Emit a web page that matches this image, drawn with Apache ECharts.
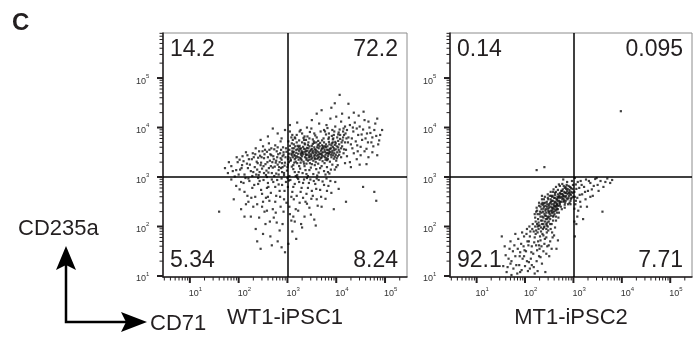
<!DOCTYPE html>
<html>
<head>
<meta charset="utf-8">
<script src="https://cdn.jsdelivr.net/npm/echarts@6/dist/echarts.min.js"></script>
<style>
html, body { margin: 0; background: #fff; }
#chart { width: 700px; height: 345px; }
</style>
</head>
<body>
<div id="chart"></div>
<script>
// events in log10 units: [log10(CD71), log10(CD235a)]
const wtPoints = [
[3.02,3.41],[3.10,3.52],[3.15,3.36],[3.22,3.47],[3.28,3.58],[3.33,3.31],[3.38,3.44],[3.45,3.62],[3.51,3.39],[3.57,3.51],[3.63,3.27],[3.68,3.46],[3.74,3.59],[3.80,3.38],[3.86,3.66],[3.92,3.49],[3.98,3.71],[4.05,3.55],[4.12,3.62],[2.95,3.29],
[3.05,3.63],[3.12,3.24],[3.19,3.70],[3.26,3.39],[3.31,3.50],[3.36,3.66],[3.42,3.33],[3.48,3.55],[3.54,3.72],[3.60,3.43],[3.66,3.35],[3.71,3.64],[3.77,3.51],[3.83,3.42],[3.89,3.58],[3.95,3.37],[4.01,3.62],[4.08,3.77],[4.15,3.48],[2.98,3.51],
[3.07,3.34],[3.13,3.58],[3.20,3.28],[3.25,3.63],[3.30,3.42],[3.35,3.22],[3.41,3.53],[3.47,3.41],[3.52,3.67],[3.58,3.30],[3.64,3.58],[3.70,3.40],[3.75,3.70],[3.81,3.55],[3.87,3.31],[3.93,3.61],[3.99,3.45],[4.06,3.66],[4.18,3.70],[3.00,3.20],
[3.08,3.47],[3.16,3.62],[3.23,3.35],[3.29,3.53],[3.34,3.75],[3.39,3.38],[3.44,3.49],[3.50,3.26],[3.55,3.60],[3.61,3.52],[3.67,3.69],[3.72,3.32],[3.78,3.45],[3.84,3.77],[3.90,3.40],[3.96,3.54],[4.03,3.42],[4.10,3.58],[2.92,3.45],[3.04,3.55],
[3.11,3.40],[3.18,3.49],[3.24,3.22],[3.32,3.61],[3.37,3.47],[3.43,3.70],[3.49,3.36],[3.56,3.45],[3.62,3.64],[3.69,3.53],[3.76,3.28],[3.82,3.62],[3.88,3.50],[3.94,3.78],[4.00,3.33],[4.07,3.51],[4.14,3.80],[3.03,3.30],[3.14,3.45],[3.21,3.56],
[3.27,3.29],[3.40,3.59],[3.46,3.28],[3.53,3.48],[3.59,3.70],[3.65,3.41],[3.73,3.50],[3.79,3.66],[3.85,3.48],[3.97,3.65],[4.04,3.73],[3.09,3.68],[3.17,3.31],[3.28,3.45],[3.39,3.27],[3.50,3.57],[3.61,3.37],[3.70,3.56],[3.81,3.34],[3.91,3.68],
[4.02,3.50],[3.06,3.38],[3.11,3.49],[3.19,3.42],[3.24,3.53],[3.29,3.34],[3.34,3.57],[3.40,3.45],[3.45,3.35],[3.51,3.50],[3.56,3.38],[3.61,3.60],[3.66,3.47],[3.71,3.44],[3.76,3.55],[3.82,3.49],[3.87,3.57],[3.93,3.44],[3.99,3.56],[3.27,3.48],
[3.36,3.40],[3.46,3.52],[3.55,3.42],[3.64,3.50],[3.74,3.42],[3.84,3.55],[3.18,3.55],[3.32,3.46],[3.48,3.46],[3.58,3.55],[3.69,3.38],[3.79,3.60],[3.89,3.45],[3.09,3.44],[3.22,3.40],[3.43,3.58],[3.53,3.33],[3.63,3.45],[3.73,3.62],[3.83,3.36],
[3.96,3.48],[4.06,3.45],[4.11,3.70],[4.16,3.56],[3.01,3.36],[2.97,3.58],[3.14,3.29],[3.38,3.52],[3.59,3.48],[3.77,3.40],[3.92,3.53],
[3.02,3.72],[3.08,3.80],[3.13,3.66],[3.19,3.85],[3.24,3.74],[3.30,3.88],[3.35,3.68],[3.41,3.82],[3.46,3.91],[3.52,3.76],[3.57,3.84],[3.63,3.73],[3.68,3.92],[3.74,3.78],[3.79,3.86],[3.85,3.71],[3.91,3.83],[3.96,3.92],[4.02,3.80],[4.07,3.96],
[4.13,3.74],[4.19,3.88],[3.05,3.92],[3.16,3.78],[3.27,3.95],[3.38,3.75],[3.49,3.98],[3.60,3.80],[3.71,3.74],[3.82,3.99],[3.93,3.76],[4.04,3.86],[4.15,3.98],[3.11,3.75],[3.33,3.79],[3.55,3.69],[3.77,3.92],[3.99,3.68],[4.21,3.78],
[2.82,3.05],[2.87,3.18],[2.93,3.08],[2.99,3.13],[3.04,3.02],[3.09,3.21],[3.15,3.10],[3.20,3.04],[3.26,3.17],[3.31,3.08],[3.37,3.14],[3.42,3.02],[3.48,3.19],[3.53,3.06],[3.59,3.16],[3.64,3.09],[3.70,3.22],[3.75,3.12],[3.81,3.20],[3.86,3.07],
[3.92,3.25],[3.97,3.15],[4.03,3.24],[2.90,3.20],[3.01,3.25],[3.12,3.16],[3.23,3.10],[3.34,3.27],[3.45,3.14],[3.56,3.24],[3.67,3.18],[3.78,3.05],[3.89,3.15],[4.00,3.20],[3.17,3.02],[3.39,3.06],[3.61,3.03],[3.83,3.10],
[2.96,3.40],[3.03,3.47],[3.10,3.58],[3.17,3.39],[3.23,3.60],[3.30,3.49],[3.37,3.56],[3.44,3.44],[3.50,3.63],[3.57,3.36],[3.64,3.66],[3.70,3.48],[3.77,3.62],[3.84,3.46],[3.90,3.64],[3.97,3.41],[4.04,3.60],[4.10,3.40],[3.06,3.33],[3.13,3.51],
[3.21,3.63],[3.28,3.37],[3.35,3.51],[3.42,3.65],[3.49,3.43],[3.56,3.56],[3.63,3.39],[3.71,3.58],[3.78,3.35],[3.86,3.52],[3.93,3.70],[4.01,3.38],[3.15,3.43],[3.26,3.57],[3.39,3.35],[3.52,3.53],[3.66,3.62],[3.80,3.48],[3.95,3.58],[3.44,3.40],
[1.78,3.08],[1.85,3.22],[1.92,3.01],[1.98,3.30],[2.03,3.15],[2.08,3.42],[2.12,3.05],[2.17,3.27],[2.21,3.36],[2.25,3.12],[2.29,3.48],[2.33,3.20],[2.37,3.31],[2.41,3.04],[2.44,3.43],[2.48,3.17],[2.52,3.38],[2.55,3.26],[2.58,3.51],[2.61,3.09],
[2.64,3.33],[2.67,3.44],[2.70,3.19],[2.73,3.56],[2.76,3.29],[2.79,3.40],[2.82,3.14],[2.85,3.48],[2.88,3.35],[2.91,3.60],[2.94,3.23],[2.15,3.50],[2.35,3.58],[2.50,3.62],[2.62,3.68],[2.75,3.64],[2.86,3.72],[2.02,3.35],[2.28,3.02],[2.46,3.29],
[2.57,3.13],[2.69,3.30],[2.80,3.25],[2.90,3.42],[2.40,3.39],[2.53,3.46],[2.66,3.22],[2.78,3.52],[2.89,3.10],[2.60,3.40],[2.72,3.36],[2.84,3.30],[2.45,3.24],[2.31,3.40],[2.19,3.18],[2.07,3.24],[1.95,3.14],[2.56,3.04],[2.77,3.07],[2.87,3.55],
[2.63,3.55],[2.49,3.52],[2.38,3.15],
[1.72,3.18],[1.80,3.30],[1.88,3.12],[1.96,3.40],[2.00,3.05],[2.06,3.18],[2.10,3.32],[2.14,2.98],[2.18,3.44],[2.23,3.25],[2.27,3.36],[2.30,3.10],[2.34,3.46],[2.39,3.28],[2.43,3.10],[2.47,3.40],[2.51,3.22],[2.54,3.55],[2.59,3.30],[2.62,3.18],
[2.65,3.46],[2.68,3.08],[2.71,3.42],[2.74,3.21],[2.77,3.33],[2.81,3.46],[2.83,3.20],[2.86,3.38],[2.89,3.28],[2.92,3.50],[2.36,3.05],[2.52,3.08],[2.67,3.58],[2.80,3.60],[2.42,3.52],[2.58,3.00],[2.73,3.02],[2.93,3.04],
[4.20,3.55],[4.25,3.80],[4.30,3.66],[4.35,3.92],[4.40,3.72],[4.45,3.85],[4.50,3.61],[4.55,3.96],[4.60,3.78],[4.65,3.70],[4.70,3.89],[4.76,3.62],[4.82,3.83],[4.88,3.74],[4.94,3.95],[4.22,3.95],[4.28,4.05],[4.33,3.58],[4.38,4.10],[4.43,3.64],
[4.48,4.02],[4.53,3.75],[4.58,4.15],[4.63,3.88],[4.68,4.00],[4.74,3.80],[4.80,4.08],[4.86,3.66],[3.85,3.88],[3.92,3.95],[3.98,4.02],[4.05,3.90],[4.10,4.12],[4.16,3.85],[3.80,4.05],[3.88,4.18],[4.00,4.22],[4.12,4.28],[4.26,4.20],[4.36,4.30],
[4.46,4.24],[4.56,4.32],[4.18,4.02],[4.32,3.78],[4.42,3.98],[4.52,3.86],[4.62,3.57],[4.72,3.70],[4.24,3.70],[4.08,3.85],[3.95,3.85],[4.14,3.92],[4.34,4.00],[4.44,3.52],[4.66,4.12],[4.78,3.95],[4.90,3.85],[4.84,4.18],
[4.22,3.42],[4.28,3.30],[4.36,3.48],[4.42,3.36],[4.50,3.44],[4.58,3.52],[4.66,3.40],[4.74,3.50],[4.84,3.44],[4.30,3.20],[4.48,3.25],[4.18,3.28],[4.62,3.26],
[2.45,3.75],[2.60,3.82],[2.80,3.88],[2.95,3.95],[3.10,3.85],[3.25,3.92],[3.40,4.00],[3.55,3.88],[3.65,4.08],[3.75,3.95],[3.20,4.10],[3.50,4.15],[3.35,3.82],[3.05,4.05],[2.70,3.98],[3.60,4.28],[3.90,4.40],[4.25,4.48],[4.07,4.66],[3.97,4.49],
[3.70,4.35],[3.45,3.78],[3.15,3.80],[2.88,3.78],[3.30,3.70],[3.85,3.80],
[1.85,2.95],[1.95,2.82],[2.05,2.90],[2.12,2.70],[2.20,2.97],[2.26,2.58],[2.32,2.84],[2.38,2.45],[2.43,2.92],[2.48,2.66],[2.53,2.30],[2.58,2.78],[2.63,2.52],[2.68,2.95],[2.72,2.18],[2.77,2.62],[2.82,2.85],[2.86,2.40],[2.90,2.05],[2.94,2.72],
[3.03,2.93],[3.08,2.60],[3.12,2.80],[3.17,2.35],[3.22,2.96],[3.27,2.70],[3.32,2.88],[3.37,2.50],[3.42,2.78],[3.47,2.95],[3.52,2.62],[3.57,2.86],[3.62,2.42],[3.67,2.74],[3.72,2.91],[3.78,2.56],[3.84,2.82],[3.90,2.68],[3.98,2.90],[4.05,2.76],
[3.05,2.25],[3.15,2.10],[3.25,2.48],[3.35,2.20],[3.45,2.38],[3.55,2.14],[3.10,1.90],[3.30,1.98],[2.55,2.05],[2.65,1.80],[2.80,1.70],[2.45,1.55],[2.95,1.48],[3.02,1.65],[2.25,2.20],[2.15,2.45],[2.35,1.95],[2.70,2.35],[2.60,2.88],[2.88,2.97],
[3.00,2.98],[3.20,2.99],[3.40,2.98],[3.60,2.97],[3.80,2.97],[2.40,2.98],[2.75,2.80],[3.13,2.55],[3.50,2.72],[3.70,2.40],[2.50,2.50],[2.85,2.60],[1.90,2.55],[2.05,2.35],[4.78,2.70],[4.82,2.52],[4.55,2.80],[1.60,2.30],[3.95,2.35],[4.20,2.50],
[2.02,2.75],[2.10,2.88],[2.18,2.62],[2.22,2.92],[2.28,2.78],[2.34,2.60],[2.40,2.86],[2.46,2.74],[2.51,2.94],[2.56,2.58],[2.61,2.80],[2.66,2.68],[2.71,2.90],[2.75,2.50],[2.79,2.94],[2.84,2.72],[2.89,2.84],[2.93,2.55],[2.97,2.90],[3.01,2.80],
[3.06,2.94],[3.10,2.70],[3.15,2.86],[3.19,2.62],[3.24,2.90],[3.29,2.78],[3.34,2.95],[3.39,2.66],[3.44,2.88],[3.49,2.56],[3.54,2.92],[3.59,2.76],[3.64,2.94],[3.69,2.60],[3.75,2.84],[3.81,2.72],[3.88,2.92],[2.30,2.40],[2.42,2.18],[2.58,2.32],
[2.64,2.10],[2.76,2.28],[2.84,1.92],[2.92,2.30],[3.04,2.40],[3.12,2.20],[3.22,2.32],[3.28,2.05],[3.40,2.46],[3.48,2.24],[2.68,1.62],[2.50,1.85],[2.88,1.58],[3.18,1.75],[2.38,1.70],[2.60,2.60],[2.98,2.48],[3.32,2.58],[3.60,2.55],[2.20,2.50],
[2.12,2.20],[2.78,2.08],[3.58,2.02],[2.48,2.40],[3.08,2.12]
];

const mtPoints = [
[2.70,2.60],[2.75,2.72],[2.80,2.55],[2.84,2.80],[2.88,2.66],[2.92,2.74],[2.96,2.58],[2.99,2.84],[2.72,2.82],[2.78,2.65],[2.83,2.48],[2.87,2.90],[2.91,2.62],[2.95,2.78],[2.98,2.68],[2.74,2.50],[2.81,2.70],[2.86,2.57],[2.90,2.82],[2.94,2.52],
[2.97,2.92],[2.68,2.74],[2.77,2.86],[2.85,2.76],[2.93,2.66],[2.65,2.55],[2.62,2.68],[2.66,2.45],[2.89,2.45],[2.79,2.95],
[2.22,2.10],[2.26,2.25],[2.30,2.02],[2.34,2.35],[2.38,2.18],[2.42,2.42],[2.46,2.08],[2.50,2.30],[2.54,2.50],[2.58,2.20],[2.62,2.40],[2.66,2.28],[2.24,2.38],[2.28,1.95],[2.32,2.20],[2.36,2.48],[2.40,2.00],[2.44,2.28],[2.48,2.55],[2.52,2.15],
[2.56,2.38],[2.60,2.58],[2.64,2.12],[2.68,2.35],[2.20,2.25],[2.25,2.05],[2.29,2.42],[2.33,2.12],[2.37,2.30],[2.41,2.22],[2.45,2.50],[2.49,2.10],[2.53,2.40],[2.57,2.62],[2.61,2.25],[2.65,2.48],[2.69,2.18],[2.27,2.15],[2.31,2.30],[2.35,2.05],
[2.39,2.40],[2.43,2.15],[2.47,2.36],[2.51,2.62],[2.55,2.28],[2.59,2.45],[2.63,2.32],[2.67,2.60],[2.23,1.92],[2.39,2.55],[2.55,2.05],[2.71,2.42],[2.44,1.95],[2.58,2.70],[2.35,2.62],[2.50,2.45],[2.42,2.32],[2.54,2.22],[2.46,2.20],[2.62,2.50],
[2.40,2.26],[2.45,2.40],[2.50,2.20],[2.55,2.45],[2.60,2.30],[2.65,2.40],[2.70,2.52],[2.75,2.60],[2.80,2.62],[2.85,2.68],[2.48,2.32],[2.52,2.48],[2.57,2.35],[2.62,2.58],[2.67,2.52],[2.72,2.68],[2.77,2.55],[2.82,2.78],[2.87,2.72],[2.92,2.70],
[2.36,2.20],[2.41,2.10],[2.46,2.45],[2.53,2.55],[2.58,2.52],[2.63,2.42],[2.68,2.65],[2.73,2.58],[2.78,2.75],[2.83,2.60],[2.34,2.28],[2.38,2.36],[2.44,2.05],[2.49,2.28],[2.56,2.60],[2.61,2.35],[2.66,2.55],[2.71,2.48],[2.76,2.66],[2.81,2.52],
[2.21,2.18],[2.25,2.32],[2.28,2.08],[2.32,2.40],[2.36,2.12],[2.39,2.47],[2.43,2.22],[2.47,2.58],[2.51,2.25],[2.55,2.52],[2.58,2.38],[2.62,2.64],[2.65,2.34],[2.69,2.58],[2.72,2.45],[2.76,2.72],[2.79,2.50],[2.83,2.68],[2.86,2.84],[2.90,2.58],
[2.93,2.80],[2.96,2.70],[2.99,2.60],[2.26,2.00],[2.30,2.25],[2.34,2.45],[2.38,2.05],[2.42,2.48],[2.46,2.15],[2.50,2.38],[2.54,2.62],[2.57,2.28],[2.61,2.48],[2.64,2.70],[2.68,2.42],[2.71,2.62],[2.74,2.40],[2.78,2.58],[2.82,2.44],[2.85,2.62],
[2.88,2.76],[2.92,2.48],[2.95,2.64],[2.98,2.76],[2.23,2.30],[2.29,2.48],[2.35,2.55],[2.41,2.60],[2.47,2.65],[2.53,2.70],[2.59,2.75],[2.64,2.80],[2.70,2.85],[2.33,1.90],[2.39,1.98],[2.45,2.02],[2.52,2.05],[2.58,2.12],[2.64,2.20],[2.70,2.28],
[2.76,2.35],[2.82,2.38],[2.88,2.55],[2.94,2.45],[2.37,2.44],[2.43,2.35],[2.49,2.42],[2.56,2.32],[2.60,2.42],[2.66,2.36],[2.73,2.50],[2.79,2.62],[2.84,2.52],[2.90,2.68],[2.95,2.56],[2.48,2.18],[2.53,2.32],[2.59,2.22],[2.66,2.44],[2.73,2.66],
[2.80,2.82],
[1.62,1.08],[1.70,1.25],[1.76,1.15],[1.80,1.40],[1.85,1.55],[1.88,1.22],[1.92,1.65],[1.95,1.35],[1.98,1.80],[2.02,1.50],[2.05,1.70],[2.08,1.28],[2.11,1.90],[2.14,1.60],[2.17,1.45],[2.20,1.78],[2.23,1.62],[2.26,1.88],[2.29,1.40],[2.32,1.72],
[1.84,1.05],[1.93,1.12],[2.00,1.20],[2.06,1.10],[2.12,1.35],[2.18,1.18],[2.24,1.30],[2.30,1.55],[2.36,1.85],[2.40,1.65],[2.44,1.78],[2.48,1.92],[2.52,1.70],[2.56,1.88],[1.90,1.48],[1.97,1.60],[2.03,1.85],[2.09,2.00],[2.15,1.95],[2.21,2.00],
[2.27,1.70],[2.33,1.98],[2.38,1.50],[2.46,1.60],[2.60,1.82],[2.10,1.15],[1.75,1.50],[1.66,1.35],[1.58,1.60],[1.52,1.80],[2.35,1.25],[2.50,1.40],[2.65,1.55],[2.42,1.08],[2.20,1.05],
[1.55,1.20],[1.60,1.42],[1.64,1.18],[1.68,1.55],[1.72,1.30],[1.78,1.62],[1.82,1.22],[1.86,1.75],[1.89,1.40],[1.94,1.88],[1.99,1.52],[2.04,1.95],[2.07,1.62],[2.10,1.80],[2.13,1.48],[2.16,2.05],[2.19,1.68],[2.22,1.85],[2.25,1.52],[2.28,2.02],
[2.31,1.80],[2.34,1.60],[2.37,1.95],[2.41,1.75],[2.45,1.88],[2.49,1.62],[2.53,1.95],[2.57,1.78],[1.72,1.02],[1.90,1.08],[2.04,1.30],[2.14,1.22],[2.26,1.10],[2.32,1.38],[2.44,1.45],[2.55,1.55],[2.62,1.98],[2.68,1.72],[1.98,1.40],[2.08,1.70],
[2.18,1.90],[2.29,1.62],[2.38,1.82],[2.47,2.00],[1.80,1.85],[1.70,1.70],
[3.02,2.70],[3.05,2.85],[3.08,2.58],[3.12,2.78],[3.15,2.92],[3.18,2.65],[3.22,2.80],[3.26,2.95],[3.30,2.72],[3.35,2.88],[3.40,2.62],[3.45,2.96],[3.50,2.84],[3.56,2.92],[3.62,2.80],[3.70,2.97],[3.76,2.88],[3.04,2.45],[3.10,2.32],[3.14,2.50],
[3.20,2.15],[3.28,2.40],[3.06,2.05],[3.03,1.80],[3.38,2.75],[3.60,2.30],[3.03,2.98],
[3.03,2.60],[3.06,2.76],[3.09,2.90],[3.13,2.64],[3.17,2.84],[3.24,2.70],[3.32,2.92],[3.42,2.82],[3.52,2.72],[3.66,2.90],[3.02,2.36],[3.08,2.20],[3.05,2.52],[3.15,2.40],[3.25,2.55],[3.35,2.60],[3.48,2.98],[3.80,2.94],[3.02,2.10],
[2.24,3.14],[2.40,3.20],[3.98,4.33]
];

const wtQuad = ['14.2', '72.2', '5.34', '8.24'];
const mtQuad = ['0.14', '0.095', '92.1', '7.71'];
const panelNames = ['WT1-iPSC1', 'MT1-iPSC2'];
const gate = 3;                 // quadrant gate at 10^3 on both channels
const majorDecades = [1, 2, 3, 4, 5];
const minorDecades = [0, 1, 2, 3, 4, 5];
const minorSteps = [2, 3, 4, 5, 6, 7, 8, 9];
const xRange = [0.45, 5.45];
const yRange = [0.98, 5.91];

const ink = '#231f20';
const font = '"Liberation Sans", Arial, sans-serif';

// tick rows: [value, isMajor, axis(0 = x, 1 = y), exponent]
function tickRows() {
	const rows = [];
	[0, 1].forEach(function (ax) {
		const r = ax === 0 ? xRange : yRange;
		majorDecades.forEach(function (d) {
			if (d >= r[0] && d <= r[1]) rows.push([d, 1, ax, d]);
		});
		minorDecades.forEach(function (d) {
			minorSteps.forEach(function (m) {
				const v = d + Math.log10(m);
				if (v >= r[0] && v <= r[1]) rows.push([v, 0, ax, d]);
			});
		});
	});
	return rows;
}

function renderTick(params, api) {
	const v = api.value(0);
	const major = api.value(1) === 1;
	const ax = api.value(2);
	const n = api.value(3);
	const len = major ? 6 : 3.5;
	const lw = major ? 2 : 1;
	const children = [];
	if (ax === 0) {
		const p = api.coord([v, yRange[0]]);
		children.push({ type: 'line', shape: { x1: p[0], y1: p[1], x2: p[0], y2: p[1] + len }, style: { stroke: ink, lineWidth: lw } });
		if (major) {
			children.push({ type: 'text', style: { text: '10', x: p[0] + 4, y: p[1] + 17, align: 'center', verticalAlign: 'middle', fontSize: 9, fontFamily: font, fill: '#333' } });
			children.push({ type: 'text', style: { text: String(n), x: p[0] + 9, y: p[1] + 12, align: 'left', verticalAlign: 'middle', fontSize: 6, fontFamily: font, fill: '#333' } });
		}
	} else {
		const p = api.coord([xRange[0], v]);
		children.push({ type: 'line', shape: { x1: p[0] - len, y1: p[1], x2: p[0], y2: p[1] }, style: { stroke: ink, lineWidth: lw } });
		if (major) {
			children.push({ type: 'text', style: { text: '10', x: p[0] - 17, y: p[1] + 3, align: 'right', verticalAlign: 'middle', fontSize: 9, fontFamily: font, fill: '#333' } });
			children.push({ type: 'text', style: { text: String(n), x: p[0] - 17, y: p[1] - 2, align: 'left', verticalAlign: 'middle', fontSize: 6, fontFamily: font, fill: '#333' } });
		}
	}
	return { type: 'group', children: children };
}

const grids = [
	{ left: 163, top: 33, width: 244, height: 244 },
	{ left: 450, top: 33, width: 242, height: 244 }
];

const chart = echarts.init(document.getElementById('chart'));

const series = [];
[wtPoints, mtPoints].forEach(function (pts, i) {
	series.push({
		type: 'scatter',
		xAxisIndex: i,
		yAxisIndex: i,
		data: pts,
		symbol: 'rect',
		symbolSize: 2.2,
		itemStyle: { color: '#111' },
		silent: true,
		markLine: {
			silent: true,
			symbol: ['none', 'none'],
			label: { show: false },
			lineStyle: { color: '#000', width: 1.5, type: 'solid' },
			data: [{ xAxis: gate }, { yAxis: gate }]
		}
	});
	series.push({
		type: 'custom',
		xAxisIndex: i,
		yAxisIndex: i,
		clip: false,
		silent: true,
		data: tickRows(),
		renderItem: renderTick
	});
});

function quadText(labels, g) {
	const l = g.left + 7;
	const r = g.left + g.width - 9;
	const t = 50;
	const b = 261;
	const base = { fontSize: 23, fontFamily: font, fill: ink, verticalAlign: 'middle' };
	return [
		{ type: 'text', style: Object.assign({ text: labels[0], x: l, y: t, align: 'left' }, base) },
		{ type: 'text', style: Object.assign({ text: labels[1], x: r, y: t, align: 'right' }, base) },
		{ type: 'text', style: Object.assign({ text: labels[2], x: l, y: b, align: 'left' }, base) },
		{ type: 'text', style: Object.assign({ text: labels[3], x: r, y: b, align: 'right' }, base) }
	];
}

chart.setOption({
	animation: false,
	grid: grids.map(function (g) {
		return Object.assign({ show: true, borderColor: '#8c8c8c', borderWidth: 1 }, g);
	}),
	xAxis: grids.map(function (g, i) {
		return {
			type: 'value',
			gridIndex: i,
			min: xRange[0],
			max: xRange[1],
			axisLine: { show: true, onZero: false, lineStyle: { color: ink, width: 1.5 } },
			axisTick: { show: false },
			axisLabel: { show: false },
			splitLine: { show: false },
			name: panelNames[i],
			nameLocation: 'middle',
			nameGap: 30,
			nameTextStyle: { fontSize: 22, color: ink, fontFamily: font }
		};
	}),
	yAxis: grids.map(function (g, i) {
		return {
			type: 'value',
			gridIndex: i,
			min: yRange[0],
			max: yRange[1],
			axisLine: { show: true, onZero: false, lineStyle: { color: ink, width: 1.5 } },
			axisTick: { show: false },
			axisLabel: { show: false },
			splitLine: { show: false }
		};
	}),
	series: series,
	graphic: [
		{ type: 'text', left: 12, top: 11, style: { text: 'C', fontSize: 24, fontWeight: 'bold', fontFamily: font, fill: ink } },
		{ type: 'text', style: { text: 'CD235a', x: 18, y: 229, verticalAlign: 'middle', fontSize: 22, fontFamily: font, fill: ink } },
		{ type: 'text', style: { text: 'CD71', x: 150, y: 324, verticalAlign: 'middle', fontSize: 22, fontFamily: font, fill: ink } },
		{ type: 'polyline', shape: { points: [[66, 265], [66, 322], [128, 322]] }, style: { stroke: '#000', lineWidth: 2.5, fill: null } },
		{ type: 'polygon', shape: { points: [[66, 246], [56, 270], [66, 265], [76, 270]] }, style: { fill: '#000' } },
		{ type: 'polygon', shape: { points: [[147, 322], [121, 312], [126, 322], [121, 332]] }, style: { fill: '#000' } }
	].concat(quadText(wtQuad, grids[0]), quadText(mtQuad, grids[1]))
});
</script>
</body>
</html>
